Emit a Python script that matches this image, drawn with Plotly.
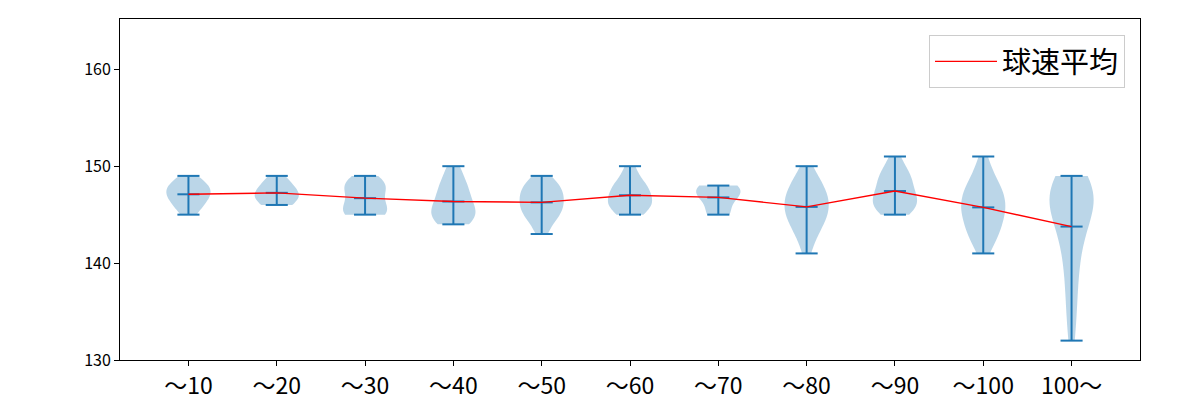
import numpy as np
import plotly.graph_objects as go

categories = ["〜10", "〜20", "〜30", "〜40", "〜50", "〜60", "〜70", "〜80", "〜90", "〜100", "100〜"]

# pitch speed counts per category: {speed: count}
speeds_1 = {145: 1, 146: 2, 147: 3, 148: 3, 149: 1}
speeds_2 = {146: 2, 147: 3, 148: 2, 149: 1}
speeds_3 = {145: 3, 146: 2, 147: 1, 148: 3, 149: 1}
speeds_4 = {144: 2, 145: 4, 146: 2, 147: 2, 148: 2, 149: 1, 150: 1}
speeds_5 = {143: 1, 144: 1, 145: 3, 146: 3, 147: 3, 148: 3, 149: 1}
speeds_6 = {145: 2, 146: 4, 147: 3, 148: 3, 149: 1, 150: 1}
speeds_7 = {145: 2, 146: 1, 147: 3, 148: 3}
speeds_8 = {141: 1, 142: 1, 143: 2, 144: 3, 145: 4, 146: 4, 147: 4, 148: 3, 149: 2, 150: 1}
speeds_9 = {145: 2, 146: 4, 147: 3, 148: 2, 149: 3, 150: 1, 151: 1}
speeds_10 = {141: 1, 142: 2, 143: 3, 144: 3, 145: 4, 146: 4, 147: 4, 148: 3, 149: 2, 150: 1, 151: 1}
speeds_11 = {132: 1, 134: 1, 136: 1, 137: 1, 139: 1, 140: 1, 141: 1, 142: 1, 143: 1,
             144: 2, 145: 2, 146: 3, 147: 4, 148: 4, 149: 2}

all_counts = [speeds_1, speeds_2, speeds_3, speeds_4, speeds_5, speeds_6,
              speeds_7, speeds_8, speeds_9, speeds_10, speeds_11]

y_ticks = [130, 140, 150, 160]
legend_label = "球速平均"

BLUE = "#1f77b4"
FONT = "Noto Sans CJK JP"

datasets = []
for c in all_counts:
    vals = []
    for k, n in c.items():
        vals.extend([k] * n)
    datasets.append(np.array(vals, dtype=float))

positions = list(range(1, len(categories) + 1))

fig = go.Figure()

for pos, d in zip(positions, datasets):
    bw = d.std(ddof=1) * len(d) ** (-1 / 5)
    fig.add_trace(go.Violin(
        x=[pos] * len(d), y=d, width=0.5, bandwidth=bw, spanmode="hard",
        points=False, fillcolor="rgba(31,119,180,0.3)",
        line=dict(width=0, color="rgba(0,0,0,0)"),
        box_visible=False, meanline_visible=False, showlegend=False,
        hoverinfo="skip", scalemode="width",
    ))

# stems, caps and mean bars
lx, ly = [], []
half = 0.125
for pos, d in zip(positions, datasets):
    mn, mx, mean = d.min(), d.max(), d.mean()
    lx += [pos, pos, None]
    ly += [mn, mx, None]
    for v in (mn, mx, mean):
        lx += [pos - half, pos + half, None]
        ly += [v, v, None]
fig.add_trace(go.Scatter(x=lx, y=ly, mode="lines", line=dict(color=BLUE, width=2),
                         showlegend=False, hoverinfo="skip"))

means = [d.mean() for d in datasets]
fig.add_trace(go.Scatter(x=positions, y=means, mode="lines", name=legend_label,
                         line=dict(color="red", width=1.4)))

axis_common = dict(showline=True, linecolor="black", linewidth=1, mirror=True,
                   ticks="outside", ticklen=5, tickcolor="black", showgrid=False,
                   zeroline=False, automargin=False)

fig.update_layout(
    width=1200, height=400,
    margin=dict(l=120, r=60, t=19, b=40),
    plot_bgcolor="white", paper_bgcolor="white",
    violinmode="overlay",
    xaxis=dict(range=[0.225, 11.775], tickvals=positions, ticktext=categories,
               tickfont=dict(family=FONT, size=23, color="black"), **axis_common),
    yaxis=dict(range=[130, 165.19], tickvals=y_ticks,
               tickfont=dict(family=FONT, size=16, color="black"), **axis_common),
    legend=dict(x=(1125 - 120) / 1020, y=1 - (35 - 19) / 341, xanchor="right", yanchor="top",
                bordercolor="#cccccc", borderwidth=1, bgcolor="white", itemwidth=62,
                font=dict(family=FONT, size=29, color="black")),
    font=dict(family=FONT),
)

fig.write_html("out.html", post_script="document.body.style.margin='0';",
               config={"displayModeBar": False})
